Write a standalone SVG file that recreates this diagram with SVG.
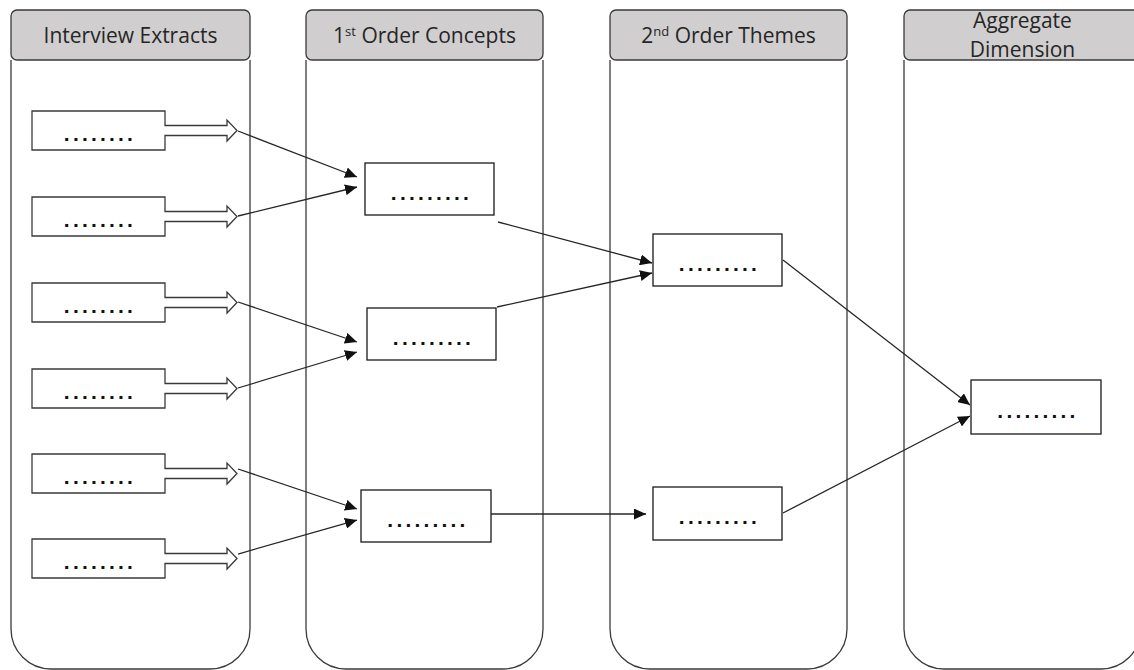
<svg xmlns="http://www.w3.org/2000/svg" width="1134" height="670" viewBox="0 0 1134 670">
  <style>
    .colhead { fill: #d0cece; stroke: #3a3a3a; stroke-width: 1.3; }
    .colbody { fill: none; stroke: #3a3a3a; stroke-width: 1.3; }
    .title { font-family: "Open Sans", "Liberation Sans", sans-serif; font-size: 21px; fill: #262626; text-anchor: middle; }
    .sup { font-size: 13px; }
    .box { fill: #ffffff; stroke: #1a1a1a; stroke-width: 1.3; }
    .extract { fill: #ffffff; stroke: #3a3a3a; stroke-width: 1.3; stroke-linejoin: miter; }
    .dots { font-family: "Liberation Sans", Arial, sans-serif; font-weight: bold; font-size: 21px; letter-spacing: 3.2px; fill: #111111; text-anchor: middle; }
    .link { fill: none; stroke: #262626; stroke-width: 1.3; marker-end: url(#tip); }
  </style>
  <defs>
    <marker id="tip" markerUnits="userSpaceOnUse" markerWidth="12" markerHeight="11" refX="12" refY="5.5" orient="auto">
      <path d="M0,0 L12,5.5 L0,11 Z" fill="#111111"/>
    </marker>
  </defs>

  <rect width="1134" height="670" fill="#ffffff"/>

  <!-- column lanes -->
  <g id="lane-extracts">
    <path class="colbody" d="M11,60 V629 A40,40 0 0 0 51,669 H210 A40,40 0 0 0 250,629 V60"/>
    <rect class="colhead" x="11" y="10" width="239" height="50" rx="6"/>
    <text class="title" x="130.5" y="43">Interview Extracts</text>
  </g>
  <g id="lane-concepts">
    <path class="colbody" d="M306,60 V629 A40,40 0 0 0 346,669 H503 A40,40 0 0 0 543,629 V60"/>
    <rect class="colhead" x="306" y="10" width="237" height="50" rx="6"/>
    <text class="title" x="424.5" y="43">1<tspan class="sup" dy="-7">st</tspan><tspan dy="7"> Order Concepts</tspan></text>
  </g>
  <g id="lane-themes">
    <path class="colbody" d="M610,60 V629 A40,40 0 0 0 650,669 H807 A40,40 0 0 0 847,629 V60"/>
    <rect class="colhead" x="610" y="10" width="237" height="50" rx="6"/>
    <text class="title" x="728.5" y="43">2<tspan class="sup" dy="-7">nd</tspan><tspan dy="7"> Order Themes</tspan></text>
  </g>
  <g id="lane-aggregate">
    <path class="colbody" d="M904,60 V629 A40,40 0 0 0 944,669 H1101 A40,40 0 0 0 1141,629 V60"/>
    <rect class="colhead" x="904" y="10" width="237" height="50" rx="6"/>
    <text class="title" x="1022.5" y="28">Aggregate</text>
    <text class="title" x="1022.5" y="57">Dimension</text>
  </g>

  <!-- interview extracts: box with a hollow block arrow -->
  <g id="extract-1">
    <path class="extract" d="M32,111 H165 V125.5 H227 V120 L237,130.5 L227,141 V135.5 H165 V150 H32 Z"/>
    <text class="dots" x="100" y="141">........</text>
  </g>
  <g id="extract-2">
    <path class="extract" d="M32,197 H165 V211.5 H227 V206 L237,216.5 L227,227 V221.5 H165 V236 H32 Z"/>
    <text class="dots" x="100" y="227">........</text>
  </g>
  <g id="extract-3">
    <path class="extract" d="M32,283 H165 V297.5 H227 V292 L237,302.5 L227,313 V307.5 H165 V322 H32 Z"/>
    <text class="dots" x="100" y="313">........</text>
  </g>
  <g id="extract-4">
    <path class="extract" d="M32,369 H165 V383.5 H227 V378 L237,388.5 L227,399 V393.5 H165 V408 H32 Z"/>
    <text class="dots" x="100" y="399">........</text>
  </g>
  <g id="extract-5">
    <path class="extract" d="M32,454 H165 V468.5 H227 V463 L237,473.5 L227,484 V478.5 H165 V493 H32 Z"/>
    <text class="dots" x="100" y="484">........</text>
  </g>
  <g id="extract-6">
    <path class="extract" d="M32,539 H165 V553.5 H227 V548 L237,558.5 L227,569 V563.5 H165 V578 H32 Z"/>
    <text class="dots" x="100" y="569">........</text>
  </g>

  <!-- first order concepts -->
  <g id="concept-1">
    <rect class="box" x="365" y="163" width="129" height="52"/>
    <text class="dots" x="431.5" y="200">.........</text>
  </g>
  <g id="concept-2">
    <rect class="box" x="367" y="308" width="129" height="52"/>
    <text class="dots" x="433.5" y="345">.........</text>
  </g>
  <g id="concept-3">
    <rect class="box" x="361" y="490" width="130" height="52"/>
    <text class="dots" x="428" y="527">.........</text>
  </g>

  <!-- second order themes -->
  <g id="theme-1">
    <rect class="box" x="653" y="234" width="129" height="52"/>
    <text class="dots" x="719.5" y="271">.........</text>
  </g>
  <g id="theme-2">
    <rect class="box" x="653" y="487" width="129" height="53"/>
    <text class="dots" x="719.5" y="524">.........</text>
  </g>

  <!-- aggregate dimension -->
  <g id="aggregate">
    <rect class="box" x="971" y="380" width="130" height="54"/>
    <text class="dots" x="1038" y="418">.........</text>
  </g>

  <!-- connectors -->
  <g id="connectors">
    <line class="link" x1="238" y1="131" x2="357" y2="177"/>
    <line class="link" x1="238" y1="216" x2="357" y2="187"/>
    <line class="link" x1="238" y1="302" x2="357" y2="342"/>
    <line class="link" x1="238" y1="388" x2="357" y2="352"/>
    <line class="link" x1="238" y1="469" x2="357" y2="509"/>
    <line class="link" x1="238" y1="554" x2="357" y2="520"/>
    <line class="link" x1="498" y1="222" x2="652" y2="263"/>
    <line class="link" x1="497" y1="307" x2="652" y2="273"/>
    <line class="link" x1="491" y1="514" x2="646" y2="514"/>
    <line class="link" x1="783" y1="260" x2="970" y2="405"/>
    <line class="link" x1="783" y1="513" x2="970" y2="416"/>
  </g>
</svg>
